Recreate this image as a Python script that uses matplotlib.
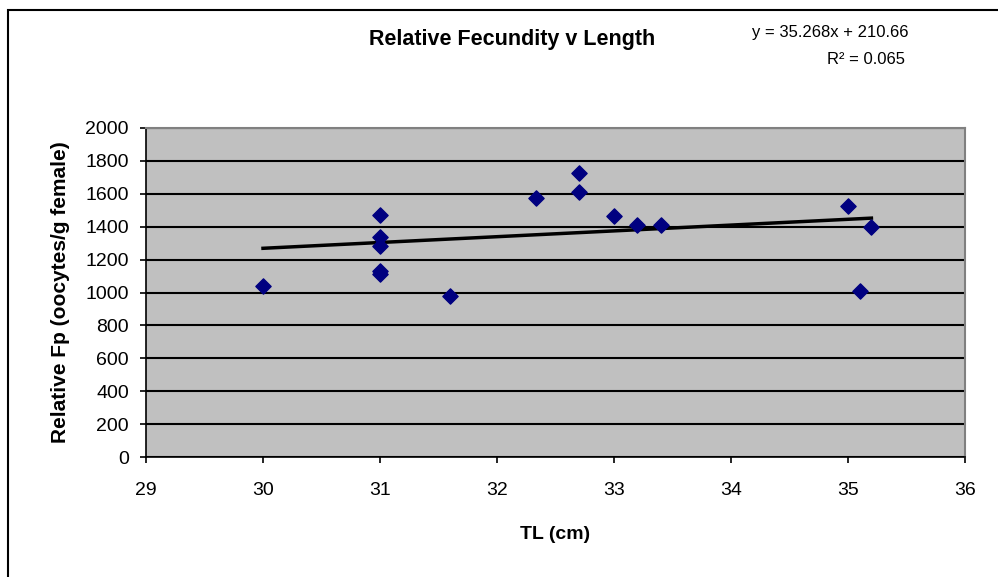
import matplotlib.pyplot as plt
import matplotlib.patches as patches
import numpy as np

plt.rcParams['font.family'] = ['Liberation Sans', 'DejaVu Sans']

# data
length_cm = [30.0, 31.0, 31.0, 31.0, 31.0, 31.0, 31.6, 32.33, 32.7, 32.7,
             33.0, 33.2, 33.4, 35.0, 35.1, 35.2]
rel_fecundity = [1040, 1473, 1340, 1280, 1130, 1110, 980, 1572, 1724, 1608,
                 1467, 1410, 1410, 1526, 1011, 1400]
slope = 35.268
intercept = 210.66
r_squared = 0.065
x_ticks = [29, 30, 31, 32, 33, 34, 35, 36]
y_ticks = [0, 200, 400, 600, 800, 1000, 1200, 1400, 1600, 1800, 2000]

fig = plt.figure(figsize=(9.98, 5.77), dpi=100)
fig.patch.set_facecolor('white')

# outer chart border (left and top visible)
fig.add_artist(patches.Rectangle((8 / 998, -0.05), 1.2, (577 - 10) / 577 + 0.05,
                                 transform=fig.transFigure, fill=False,
                                 edgecolor='black', linewidth=1.5))

ax = fig.add_axes([146 / 998, 1 - 457 / 577, (965 - 146) / 998, (457 - 128) / 577])
ax.set_facecolor('#C0C0C0')
ax.set_xlim(29, 36)
ax.set_ylim(0, 2000)
ax.set_xticks(x_ticks)
ax.set_yticks(y_ticks)
ax.tick_params(direction='out', length=4.3, width=1.2, labelsize=14)
ax.tick_params(axis='y', pad=8)
ax.tick_params(axis='x', pad=14)

ax.yaxis.grid(True, color='black', linewidth=1.5)
ax.set_axisbelow(True)
for side in ['top', 'right']:
    ax.spines[side].set_color('#808080')
    ax.spines[side].set_linewidth(1.5)
for side in ['left', 'bottom']:
    ax.spines[side].set_color('black')
    ax.spines[side].set_linewidth(1.2)

# linear trendline
x_fit = np.array([min(length_cm), max(length_cm)])
ax.plot(x_fit, slope * x_fit + intercept, color='black', linewidth=2.5, zorder=3)

ax.scatter(length_cm, rel_fecundity, marker='D', s=60, color='#000080', zorder=4)

ax.set_xlabel('TL (cm)', fontsize=14, fontweight='bold', labelpad=19)
ax.set_ylabel('Relative Fp (oocytes/g female)', fontsize=15, fontweight='bold', labelpad=11)

fig.text(512 / 998, 1 - 40 / 577, 'Relative Fecundity v Length', ha='center', va='center',
         fontsize=15.5, fontweight='bold')
fig.text(908 / 998, 1 - 33 / 577, f'y = {slope}x + {intercept}', ha='right', va='center',
         fontsize=12)
fig.text(905 / 998, 1 - 60 / 577, f'R² = {r_squared}', ha='right', va='center',
         fontsize=12)

fig.savefig('out.png', dpi=100)
